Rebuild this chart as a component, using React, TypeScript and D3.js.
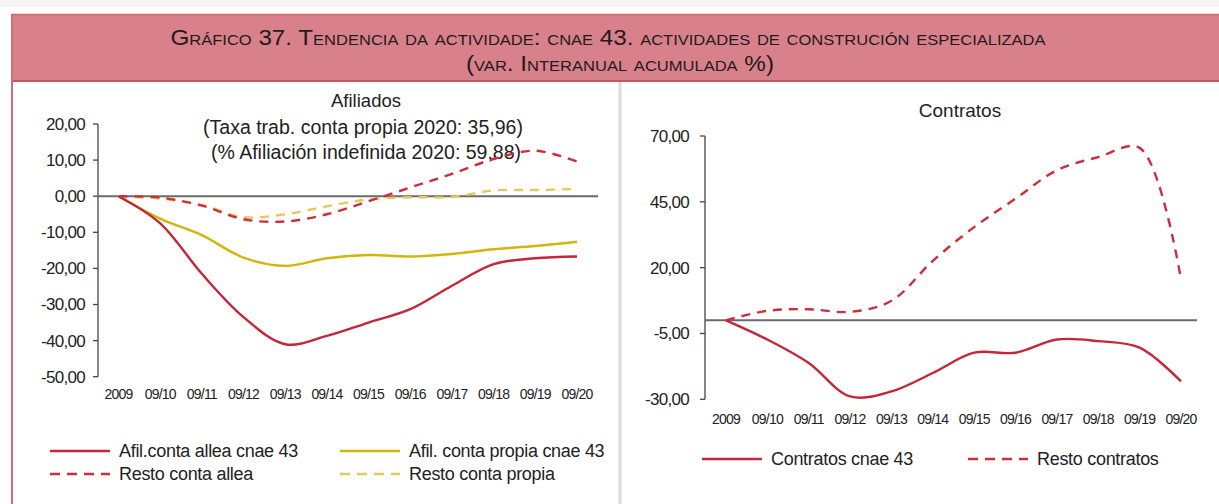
import React from "react";
import * as d3 from "d3";

const categories = ["2009", "09/10", "09/11", "09/12", "09/13", "09/14", "09/15", "09/16", "09/17", "09/18", "09/19", "09/20"];

// Afiliados (left panel)
const afilAlleaCnae43 = [0, -7.5, -21.5, -33.5, -41, -38.7, -35, -31.3, -24.8, -18.8, -17.2, -16.7];
const afilPropiaCnae43 = [0, -6.2, -10.8, -17, -19.3, -17.2, -16.3, -16.7, -16, -14.7, -13.8, -12.6];
const restoContaAllea = [0, -0.4, -2.6, -6.4, -7, -5, -1.4, 2.4, 6.2, 10.3, 12.6, 9.6];
const restoContaPropia = [0, -0.7, -2.4, -5.8, -5, -2.8, -0.9, -0.3, -0.2, 1.6, 1.7, 2];

// Contratos (right panel)
const contratosCnae43 = [0, -7.3, -16.2, -28.9, -27, -20, -12.3, -12.3, -7.3, -7.9, -10.4, -23.2];
const restoContratos = [0, 3.6, 4.2, 3.2, 7.4, 22.6, 35.4, 46.2, 57, 62, 65.5, 15.6];

const leftTicks = [20, 10, 0, -10, -20, -30, -40, -50];
const rightTicks = [70, 45, 20, -5, -30];

const headerLine1 = "Gráfico 37. Tendencia da actividade: cnae 43. actividades de construción especializada";
const headerLine2 = "(var. Interanual acumulada %)";

const RED = "#c4263a";
const RED_D = "#d02c3c";
const YEL = "#d2b60c";
const YEL_D = "#e2c95a";
const TXT = "#222";
const FONT = "'Liberation Sans', Arial, sans-serif";

const fmt = (v: number) => v.toFixed(2).replace(".", ",");

function Panel(props: any) {
  const { x, y, series, ticks, axisX, zeroEnd, labelEnd, xLabelY } = props;
  const line = d3
    .line<number>()
    .x((_, i) => x(categories[i]) as number)
    .y((v) => y(v))
    .curve(d3.curveCatmullRom.alpha(0.5));
  const [y0, y1] = y.range();
  return (
    <g>
      <line x1={axisX} x2={axisX} y1={y0} y2={y1} stroke="#444" strokeWidth={1.3} />
      {ticks.map((t: number) => (
        <g key={t}>
          <line x1={axisX - 5} x2={axisX} y1={y(t)} y2={y(t)} stroke="#444" strokeWidth={1.3} />
          <text x={labelEnd} y={y(t)} dy="0.35em" textAnchor="end" fontSize={17} letterSpacing={-0.7} fill={TXT}>
            {fmt(t)}
          </text>
        </g>
      ))}
      <line x1={axisX} x2={zeroEnd} y1={y(0)} y2={y(0)} stroke="#6a6a6a" strokeWidth={2} />
      {categories.map((c) => (
        <text key={c} x={x(c)} y={xLabelY} dy="0.35em" textAnchor="middle" fontSize={14} letterSpacing={-0.8} fill={TXT}>
          {c}
        </text>
      ))}
      {series.map((s: any, i: number) => (
        <path
          key={i}
          d={line(s.values) as string}
          fill="none"
          stroke={s.color}
          strokeWidth={2.4}
          strokeDasharray={s.dash ? "9,7" : undefined}
        />
      ))}
    </g>
  );
}

function LegendItem(props: any) {
  const { x, y, color, dash, label } = props;
  return (
    <g>
      <line x1={x} x2={x + 60} y1={y} y2={y} stroke={color} strokeWidth={2.6} strokeDasharray={dash ? "10,7" : undefined} />
      <text x={x + 69} y={y} dy="0.35em" fontSize={18} fill={TXT} letterSpacing={-0.3}>
        {label}
      </text>
    </g>
  );
}

export default function App() {
  const xL = d3.scalePoint<string>().domain(categories).range([118.5, 577]);
  const yL = d3.scaleLinear().domain([-50, 20]).range([376.7, 124]);
  const xR = d3.scalePoint<string>().domain(categories).range([726, 1181]);
  const yR = d3.scaleLinear().domain([-30, 70]).range([399.3, 136]);

  return (
    <svg
      width={1219}
      height={504}
      style={{ position: "absolute", left: 0, top: 0, background: "#fff" }}
      fontFamily={FONT}
    >
      <rect x={0} y={0} width={1219} height={7} fill="#f4f4f4" />
      <rect x={11} y={14} width={1208} height={68} fill="#d9818a" />
      <line x1={11} x2={1219} y1={14.5} y2={14.5} stroke="#d4666f" strokeWidth={1.5} />
      <line x1={11} x2={1219} y1={81} y2={81} stroke="#c9525f" strokeWidth={2} />
      <line x1={12} x2={12} y1={14} y2={504} stroke="#d46b76" strokeWidth={2} />
      <line x1={620} x2={620} y1={82} y2={504} stroke="#dcdcdc" strokeWidth={3} />
      <text
        x={608}
        y={37}
        dy="0.35em"
        textAnchor="middle"
        fontFamily="'Liberation Sans Narrow', 'Liberation Sans', Arial, sans-serif"
        fontSize={22}
        fill="#231a1f"
        style={{ fontVariant: "small-caps" }}
        textLength={875}
        lengthAdjust="spacingAndGlyphs"
      >
        {headerLine1}
      </text>
      <text
        x={620}
        y={63}
        dy="0.35em"
        textAnchor="middle"
        fontFamily="'Liberation Sans Narrow', 'Liberation Sans', Arial, sans-serif"
        fontSize={22}
        fill="#231a1f"
        style={{ fontVariant: "small-caps" }}
        textLength={308}
        lengthAdjust="spacingAndGlyphs"
      >
        {headerLine2}
      </text>

      {/* Left panel */}
      <text x={366} y={101} dy="0.35em" textAnchor="middle" fontSize={18.5} fill={TXT}>Afiliados</text>
      <text x={363} y={127} dy="0.35em" textAnchor="middle" fontSize={19.5} fill={TXT}>(Taxa trab. conta propia 2020: 35,96)</text>
      <text x={366} y={152} dy="0.35em" textAnchor="middle" fontSize={19.5} fill={TXT}>(% Afiliación indefinida 2020: 59,88)</text>
      <Panel
        x={xL}
        y={yL}
        ticks={leftTicks}
        axisX={98}
        zeroEnd={598}
        labelEnd={85}
        xLabelY={394}
        series={[
          { values: restoContaPropia, color: YEL_D, dash: true },
          { values: restoContaAllea, color: RED_D, dash: true },
          { values: afilPropiaCnae43, color: YEL, dash: false },
          { values: afilAlleaCnae43, color: RED, dash: false },
        ]}
      />
      <LegendItem x={50} y={451} color={RED} label="Afil.conta allea cnae 43" />
      <LegendItem x={340} y={451} color={YEL} label="Afil. conta propia cnae 43" />
      <LegendItem x={50} y={474} color={RED_D} dash label="Resto conta allea" />
      <LegendItem x={340} y={474} color={YEL_D} dash label="Resto conta propia" />

      {/* Right panel */}
      <text x={960} y={110} dy="0.35em" textAnchor="middle" fontSize={19} fill={TXT}>Contratos</text>
      <Panel
        x={xR}
        y={yR}
        ticks={rightTicks}
        axisX={705}
        zeroEnd={1197}
        labelEnd={689}
        xLabelY={419}
        series={[
          { values: restoContratos, color: RED_D, dash: true },
          { values: contratosCnae43, color: RED, dash: false },
        ]}
      />
      <LegendItem x={702} y={459} color={RED} label="Contratos cnae 43" />
      <LegendItem x={968} y={459} color={RED_D} dash label="Resto contratos" />
    </svg>
  );
}
